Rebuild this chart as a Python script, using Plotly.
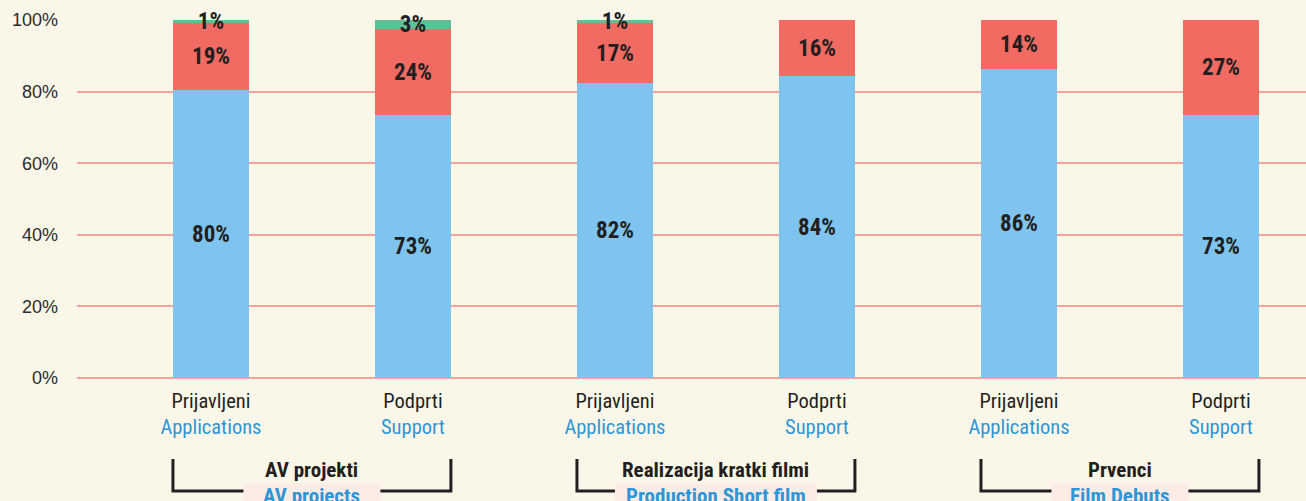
import plotly.graph_objects as go

# ---- data ----
categories_sl = ["Prijavljeni", "Podprti", "Prijavljeni", "Podprti", "Prijavljeni", "Podprti"]
categories_en = ["Applications", "Support", "Applications", "Support", "Applications", "Support"]
blue_vals = [80.4, 73.5, 82.4, 84.4, 86.3, 73.5]
red_vals = [18.8, 24.0, 16.8, 15.6, 13.7, 26.5]
green_vals = [0.8, 2.5, 0.8, 0, 0, 0]
blue_labels = ["80%", "73%", "82%", "84%", "86%", "73%"]
red_labels = ["19%", "24%", "17%", "16%", "14%", "27%"]
green_labels = ["1%", "3%", "1%", "", "", ""]
groups_sl = ["AV projekti", "Realizacija kratki filmi", "Prvenci"]
groups_en = ["AV projects", "Production Short film", "Film Debuts"]
tick_vals_y = [0, 20, 40, 60, 80, 100]
tick_text_y = ["0%", "20%", "40%", "60%", "80%", "100%"]

BG = "#fbf7e8"
BLUE = "#7fc4ee"
RED = "#f26b63"
GREEN = "#5fbf98"
DARK = "#231f20"
TXTBLUE = "#2f96d6"
GRID = "#f7a39c"
NARROW = "Liberation Sans Narrow, Arial Narrow, Roboto Condensed, sans-serif"

x = list(range(len(categories_sl)))
BW = 0.376

fig = go.Figure()
for vals, labs, col in [(blue_vals, blue_labels, BLUE), (red_vals, red_labels, RED),
                        (green_vals, green_labels, GREEN)]:
    fig.add_trace(go.Bar(
        x=x, y=vals, width=BW, marker=dict(color=col, line=dict(width=0)),
        text=labs, textposition="inside", insidetextanchor="middle",
        constraintext="none", textangle=0, cliponaxis=False,
        textfont=dict(family=NARROW, size=23, color=DARK, weight="bold"),
        hoverinfo="skip", showlegend=False,
    ))

ticktext = [f"{a}<br><span style='color:{TXTBLUE}'>{b}</span>" for a, b in zip(categories_sl, categories_en)]

fig.update_layout(
    width=1306, height=501,
    margin=dict(l=77, r=0, t=20, b=123),
    paper_bgcolor=BG, plot_bgcolor=BG,
    barmode="stack", bargap=0,
    xaxis=dict(range=[-0.663, 5.421], tickvals=x, ticktext=ticktext,
               showgrid=False, zeroline=False, showline=False, ticks="",
               tickfont=dict(family=NARROW, size=20.5, color=DARK),
               ticklabelstandoff=8, fixedrange=True),
    yaxis=dict(range=[0, 100], tickvals=tick_vals_y, ticktext=tick_text_y,
               showgrid=True, gridcolor=GRID, gridwidth=1.5,
               zeroline=True, zerolinecolor=GRID, zerolinewidth=1.5,
               showline=False, ticks="", ticklabelstandoff=18,
               tickfont=dict(family="Liberation Sans, Arial, sans-serif", size=18, color="#2b2b2b"),
               fixedrange=True),
    font=dict(family=NARROW),
)

PH = 358.0
def py(p):
    return (378 - p) / PH

box_widths = [0.678, 1.0, 0.678]
for g in range(len(groups_sl)):
    i0 = 2 * g
    xl = i0 - BW / 2
    xr = i0 + 1 + BW / 2
    yt = py(459)
    yb = py(491)
    fig.add_shape(type="path", xref="x", yref="paper",
                  path=f"M {xl},{yt} L {xl},{yb} L {xr},{yb} L {xr},{yt}",
                  line=dict(color=DARK, width=3), layer="above")
    cx = i0 + 0.5
    hw = box_widths[g] / 2
    fig.add_shape(type="rect", xref="x", yref="paper",
                  x0=cx - hw, x1=cx + hw, y0=py(483.5), y1=py(520),
                  fillcolor="#fdece6", line=dict(width=0), layer="above")
    fig.add_annotation(x=cx, y=py(470), xref="x", yref="paper",
                       text=f"<b>{groups_sl[g]}</b>", showarrow=False,
                       font=dict(family=NARROW, size=21, color=DARK),
                       yanchor="middle")
    fig.add_annotation(x=cx, y=py(496), xref="x", yref="paper",
                       text=f"<b>{groups_en[g]}</b>", showarrow=False,
                       font=dict(family=NARROW, size=21, color=TXTBLUE),
                       yanchor="middle")

fig.write_html("out.html", config={"displayModeBar": False},
               post_script="document.body.style.margin='0';document.body.style.background='#fbf7e8';")
